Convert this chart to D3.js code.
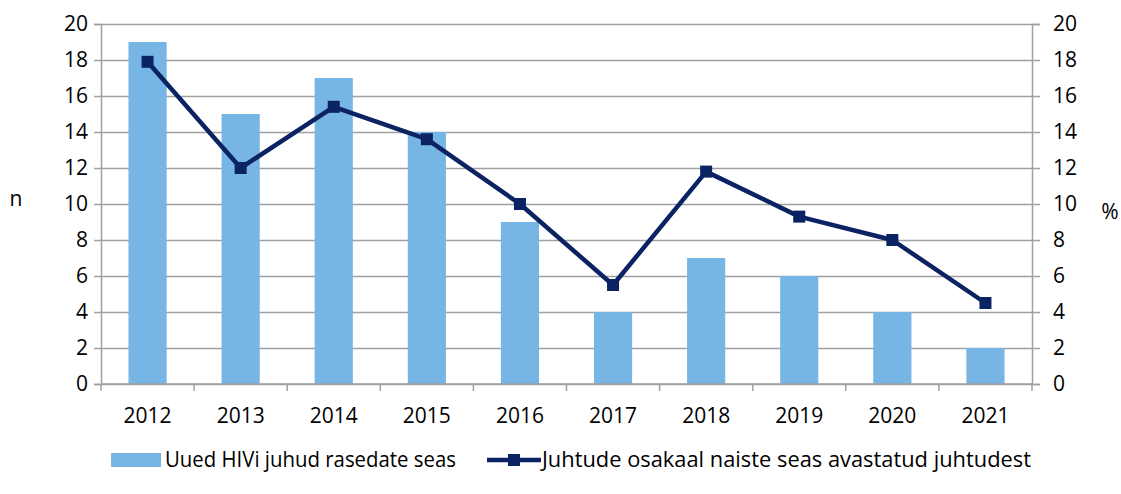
<!DOCTYPE html>
<html>
<head>
<meta charset="utf-8">
<script src="https://cdn.jsdelivr.net/npm/d3@7"></script>
<style>
  body { margin: 0; background: #fff; }
  svg text { font-family: "Open Sans", sans-serif; fill: #000; }
</style>
</head>
<body>
<div id="wrapper"></div>
<script>
// data
const years = ["2012", "2013", "2014", "2015", "2016", "2017", "2018", "2019", "2020", "2021"]
const newCases = [19, 15, 17, 14, 9, 4, 7, 6, 4, 2]
const sharePct = [17.9, 12.0, 15.4, 13.6, 10.0, 5.5, 11.8, 9.3, 8.0, 4.5]
const yTicks = [0, 2, 4, 6, 8, 10, 12, 14, 16, 18, 20]
const barLabel = "Uued HIVi juhud rasedate seas"
const lineLabel = "Juhtude osakaal naiste seas avastatud juhtudest"

const fontSize = 21

const dimensions = {
    width: 1121,
    height: 494,
    margin: { top: 24, right: 89, bottom: 110, left: 101 },
}
dimensions.boundedWidth = dimensions.width - dimensions.margin.left - dimensions.margin.right
dimensions.boundedHeight = dimensions.height - dimensions.margin.top - dimensions.margin.bottom

const barColor = "#77b5e4"
const lineColor = "#0b2263"
const gridColor = "#a0a0a0"

const wrapper = d3.select("#wrapper")
    .append("svg")
    .attr("width", dimensions.width)
    .attr("height", dimensions.height)

const bounds = wrapper.append("g")
    .attr("transform", `translate(${dimensions.margin.left}, ${dimensions.margin.top})`)

// scales
const xScale = d3.scaleBand()
    .domain(years)
    .range([0, dimensions.boundedWidth])
    .paddingInner(0.59)
    .paddingOuter(0.295)

const yLeft = d3.scaleLinear().domain([0, 20]).range([dimensions.boundedHeight, 0])
const yRight = d3.scaleLinear().domain([0, 20]).range([dimensions.boundedHeight, 0])

// gridlines
bounds.append("g")
    .selectAll("line")
    .data(yTicks)
    .join("line")
    .attr("x1", 0)
    .attr("x2", dimensions.boundedWidth)
    .attr("y1", d => Math.round(yLeft(d)) + 0.5)
    .attr("y2", d => Math.round(yLeft(d)) + 0.5)
    .attr("stroke", gridColor)
    .attr("stroke-width", 1.5)

// bars
bounds.append("g")
    .selectAll("rect")
    .data(newCases)
    .join("rect")
    .attr("x", (d, i) => xScale(years[i]))
    .attr("y", d => yLeft(d))
    .attr("width", xScale.bandwidth())
    .attr("height", d => dimensions.boundedHeight - yLeft(d))
    .attr("fill", barColor)

// axes
const leftAxis = bounds.append("g")
    .call(d3.axisLeft(yLeft).tickValues(yTicks).tickSize(7).tickPadding(6))
leftAxis.select(".domain").attr("stroke", gridColor).attr("stroke-width", 1.5)
leftAxis.selectAll(".tick line").attr("stroke", gridColor).attr("stroke-width", 1.5)
leftAxis.selectAll("text").attr("font-size", fontSize).style("font-family", "Open Sans, sans-serif")

const rightAxis = bounds.append("g")
    .attr("transform", `translate(${dimensions.boundedWidth}, 0)`)
    .call(d3.axisRight(yRight).tickValues(yTicks).tickSize(8).tickPadding(13))
rightAxis.select(".domain").attr("stroke", gridColor).attr("stroke-width", 1.5)
rightAxis.selectAll(".tick line").attr("stroke", gridColor).attr("stroke-width", 1.5)
rightAxis.selectAll("text").attr("font-size", fontSize).style("font-family", "Open Sans, sans-serif")

// x axis with ticks between categories
const xAxis = bounds.append("g")
    .attr("transform", `translate(0, ${dimensions.boundedHeight})`)
xAxis.append("line")
    .attr("x1", 0).attr("x2", dimensions.boundedWidth)
    .attr("stroke", gridColor).attr("stroke-width", 1.5)
xAxis.selectAll(".sep")
    .data(d3.range(years.length + 1))
    .join("line")
    .attr("class", "sep")
    .attr("x1", i => i * dimensions.boundedWidth / years.length)
    .attr("x2", i => i * dimensions.boundedWidth / years.length)
    .attr("y1", 0).attr("y2", 7)
    .attr("stroke", gridColor).attr("stroke-width", 1.5)
xAxis.selectAll(".lbl")
    .data(years)
    .join("text")
    .attr("class", "lbl")
    .attr("x", d => xScale(d) + xScale.bandwidth() / 2)
    .attr("y", 39)
    .attr("text-anchor", "middle")
    .attr("font-size", fontSize)
    .text(d => d)

// line
const lineGen = d3.line()
    .x((d, i) => xScale(years[i]) + xScale.bandwidth() / 2)
    .y(d => yRight(d))

bounds.append("path")
    .datum(sharePct)
    .attr("d", lineGen)
    .attr("fill", "none")
    .attr("stroke", lineColor)
    .attr("stroke-width", 4.5)
    .attr("stroke-linejoin", "round")

bounds.append("g")
    .selectAll("rect")
    .data(sharePct)
    .join("rect")
    .attr("x", (d, i) => xScale(years[i]) + xScale.bandwidth() / 2 - 6)
    .attr("y", d => yRight(d) - 6)
    .attr("width", 12)
    .attr("height", 12)
    .attr("fill", lineColor)

// axis titles
wrapper.append("text")
    .attr("x", 16).attr("y", 206)
    .attr("text-anchor", "middle")
    .attr("font-size", fontSize)
    .text("n")
wrapper.append("text")
    .attr("x", 1110).attr("y", 219)
    .attr("text-anchor", "middle")
    .attr("font-size", fontSize)
    .text("%")

// legend
const legend = wrapper.append("g")
legend.append("rect")
    .attr("x", 111).attr("y", 453)
    .attr("width", 50).attr("height", 14)
    .attr("fill", barColor)
legend.append("text")
    .attr("x", 165).attr("y", 467)
    .attr("font-size", fontSize)
    .attr("textLength", 291)
    .attr("lengthAdjust", "spacingAndGlyphs")
    .text(barLabel)
legend.append("line")
    .attr("x1", 487).attr("x2", 541)
    .attr("y1", 460).attr("y2", 460)
    .attr("stroke", lineColor).attr("stroke-width", 4.5)
legend.append("rect")
    .attr("x", 508).attr("y", 454)
    .attr("width", 12).attr("height", 12)
    .attr("fill", lineColor)
legend.append("text")
    .attr("x", 542).attr("y", 467)
    .attr("font-size", fontSize)
    .attr("textLength", 489)
    .attr("lengthAdjust", "spacingAndGlyphs")
    .text(lineLabel)
</script>
</body>
</html>
